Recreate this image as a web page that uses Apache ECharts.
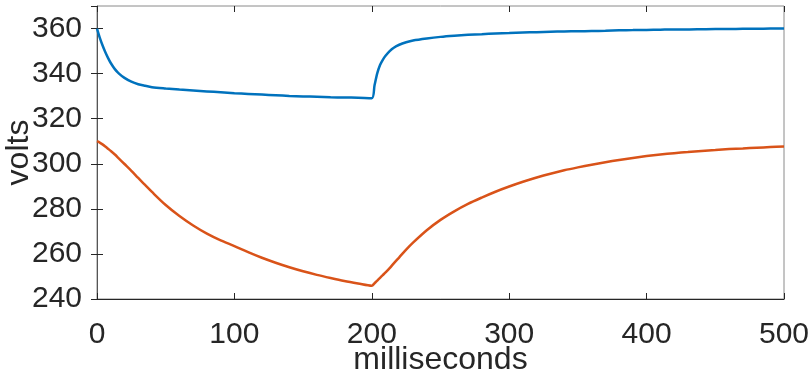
<!DOCTYPE html>
<html>
<head>
<meta charset="utf-8">
<script src="https://cdn.jsdelivr.net/npm/echarts@6/dist/echarts.min.js"></script>
<style>
  html, body { margin: 0; padding: 0; background: #fff; }
  #chart { width: 810px; height: 376px; }
</style>
</head>
<body>
<div id="chart"></div>
<script>
// time in ms
const timeMs = [0, 2, 4, 6, 8, 10, 13, 16, 20, 25, 30, 35, 40, 50, 60, 70, 80, 90, 100,
  110, 120, 130, 140, 150, 160, 170, 180, 190, 200,
  202, 204, 206, 208, 210, 213, 216, 220, 225, 230, 240, 250, 260, 270, 280, 290, 300,
  310, 320, 330, 340, 350, 360, 370, 380, 390, 400, 410, 420, 430, 440, 450, 460, 470, 480, 490, 500];

// upper trace (blue)
const voltsUpper = [360, 356.0, 352.6, 349.6, 347.0, 344.7, 342.0, 340.0, 338.1, 336.4, 335.3, 334.6, 334.0,
  333.4, 332.9, 332.5, 332.1, 331.7, 331.3,
  331.0, 330.7, 330.4, 330.1, 329.9, 329.7, 329.5, 329.4, 329.3, 329.1,
  334.8, 340.2, 343.8, 346.1, 347.9, 350.0, 351.5, 352.8, 353.9, 354.7, 355.6, 356.3, 356.8, 357.2, 357.5, 357.8, 358.0,
  358.2, 358.4, 358.6, 358.7, 358.8, 358.9, 359.0, 359.2, 359.3, 359.4, 359.5, 359.6, 359.6, 359.7, 359.8, 359.8, 359.9, 359.9, 360.0, 360.0];

// lower trace (orange)
const voltsLower = [310.0, 309.4, 308.6, 307.7, 306.7, 305.7, 304.1, 302.3, 299.9, 296.9, 293.7, 290.6, 287.5,
  281.7, 276.8, 272.6, 269.0, 266.0, 263.5,
  260.8, 258.3, 256.1, 254.1, 252.3, 250.7, 249.3, 248.0, 246.9, 245.9,
  247.0, 248.2, 249.4, 250.6, 251.8, 253.7, 255.8, 258.5, 261.9, 265.0, 270.5, 275.1, 278.9, 282.2, 285.0, 287.6, 289.9,
  292.0, 293.9, 295.6, 297.1, 298.4, 299.6, 300.7, 301.7, 302.6, 303.4, 304.1, 304.7, 305.2, 305.7, 306.1, 306.5, 306.8, 307.1, 307.4, 307.7];

const xTicks = [0, 100, 200, 300, 400, 500];
const yTicks = [240, 260, 280, 300, 320, 340, 360];

const font = 'Liberation Sans, Arial, Helvetica, sans-serif';
const textColor = '#262626';

const pairs = (ys) => timeMs.map((t, i) => [t, ys[i]]);

const chart = echarts.init(document.getElementById('chart'));

const tickStyle = { show: true, inside: true, length: 6, lineStyle: { color: '#262626', width: 1 } };

chart.setOption({
  animation: false,
  grid: {
    left: 97, right: 26, top: 6, bottom: 77,
    outerBoundsMode: 'none',
    containLabel: false,
    show: true, borderColor: '#8a8a8a', borderWidth: 1, backgroundColor: '#fff'
  },
  xAxis: [
    {
      type: 'value', min: 0, max: 500, interval: 100,
      name: 'milliseconds', nameLocation: 'middle', nameGap: 45, nameMoveOverlap: false,
      nameTextStyle: { fontFamily: font, fontSize: 32, color: textColor },
      axisLine: { show: true, lineStyle: { color: '#262626', width: 1.2 } },
      axisTick: tickStyle,
      axisLabel: {
        fontFamily: font, fontSize: 30, color: textColor, margin: 21,
        formatter: (v) => (xTicks.includes(v) ? String(v) : '')
      },
      splitLine: { show: false }
    },
    {
      type: 'value', position: 'top', min: 0, max: 500, interval: 100,
      axisLine: { show: false },
      axisTick: tickStyle,
      axisLabel: { show: false },
      splitLine: { show: false }
    }
  ],
  yAxis: [
    {
      type: 'value', min: 240, max: 370, interval: 20,
      name: 'volts', nameLocation: 'middle', nameGap: 62, nameRotate: 90, nameMoveOverlap: false,
      nameTextStyle: { fontFamily: font, fontSize: 32, color: textColor },
      axisLine: { show: true, lineStyle: { color: '#555', width: 1 } },
      axisTick: tickStyle,
      axisLabel: {
        fontFamily: font, fontSize: 30, color: textColor, margin: 15,
        showMaxLabel: false,
        formatter: (v) => (yTicks.includes(v) ? String(v) : '')
      },
      splitLine: { show: false }
    },
    {
      type: 'value', position: 'right', min: 240, max: 370, interval: 20,
      axisLine: { show: false },
      axisTick: tickStyle,
      axisLabel: { show: false },
      splitLine: { show: false }
    }
  ],
  series: [
    {
      type: 'line', data: pairs(voltsUpper), smooth: 0.3, showSymbol: false,
      lineStyle: { color: '#0072BD', width: 2.5 }, z: 3
    },
    {
      type: 'line', data: pairs(voltsLower), smooth: 0.3, showSymbol: false,
      lineStyle: { color: '#D95319', width: 2.5 }, z: 3
    }
  ]
});
</script>
</body>
</html>
